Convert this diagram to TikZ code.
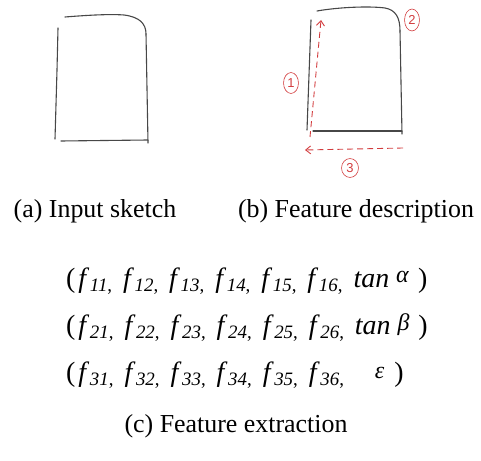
\documentclass[tikz,border=0pt]{standalone}
\usepackage{fontspec}
\setmainfont{Liberation Serif}
\newfontfamily\handfont{Liberation Sans}
\usetikzlibrary{shapes.geometric,arrows.meta}
\definecolor{sketchgrey}{gray}{0.28}
\definecolor{markred}{RGB}{210,60,62}
%% one feature: italic f, its lowered index and a small comma
\newcommand{\feat}[1]{\textit{f}\kern0.5pt\raisebox{-5pt}{\fontsize{19}{19}\selectfont\textit{#1},}\kern11pt}
%% raised greek letter at the end of a row
\newcommand{\angl}[2]{\raisebox{#2}{\fontsize{24}{24}\selectfont\textit{#1}}}
\begin{document}
\begin{tikzpicture}[x=1bp,y=-1bp,font=\fontsize{26}{30}\selectfont]
  \tikzset{
    stroke/.style={sketchgrey,line width=1.1pt,line cap=round,line join=round},
    trace/.style={markred,line width=0.9pt,dash pattern=on 6pt off 4pt,-{Straight Barb[length=5pt,width=8pt]}},
    circnum/.style={ellipse,draw=markred,text=markred,line width=0.6pt,inner sep=0.6pt,font=\handfont\fontsize{13}{13}\selectfont},
    caption/.style={anchor=base},
    featline/.style={anchor=base west,inner sep=0pt,font=\fontsize{28}{30}\selectfont}
  }
  \useasboundingbox (0,0) rectangle (481,461);
  %% (a) the sketch as it was drawn
  \draw[stroke] (58,28) -- (57,70) -- (55,139);
  \draw[stroke] (65,17) .. controls (90,15) and (110,14) .. (124,15) .. controls (140,17) and (146,24) .. (146,34);
  \draw[stroke] (146,34) -- (148,143);
  \draw[stroke] (61,141) -- (148,140);
  %% (b) the same sketch with its three strokes marked
  \draw[stroke] (311,20) -- (307,130);
  \draw[stroke] (317,11) .. controls (340,7) and (370,6) .. (385,8) .. controls (396,10) and (400,18) .. (400,31);
  \draw[stroke] (400,31) -- (402,134);
  \draw[stroke] (313,131) -- (402,131);
  \coordinate (upfrom) at (310,137);
  \coordinate (upto) at (321,20);
  \coordinate (leftfrom) at (403,148);
  \coordinate (leftto) at (305,150);
  \draw[trace] (upfrom) -- (upto);
  \draw[trace] (leftfrom) -- (leftto);
  \node[circnum,minimum width=15pt,minimum height=21pt] (one) at (291,83) {1};
  \node[circnum,minimum width=15pt,minimum height=22pt] (two) at (412,20) {2};
  \node[circnum,minimum width=17pt,minimum height=19pt] (three) at (350,168) {3};
  \node[caption] (capa) at (95,218) {(a) Input sketch};
  \node[caption] (capb) at (356,218) {(b) Feature description};
  %% (c) one row of features per stroke
  \node[featline] (rowa) at (66,287) {(\kern3pt\feat{11}\feat{12}\feat{13}\feat{14}\feat{15}\feat{16}\textit{tan}\kern7pt\angl{α}{5pt}\kern9pt)};
  \node[featline] (rowb) at (66,334) {(\kern3pt\feat{21}\feat{22}\feat{23}\feat{24}\feat{25}\feat{26}\textit{tan}\kern7pt\angl{β}{4pt}\kern9pt)};
  \node[featline] (rowc) at (66,381) {(\kern3pt\feat{31}\feat{32}\feat{33}\feat{34}\feat{35}\feat{36}\kern20pt\angl{ε}{3pt}\kern10pt)};
  \node[caption] (capc) at (236,432) {(c) Feature extraction};
\end{tikzpicture}
\end{document}
